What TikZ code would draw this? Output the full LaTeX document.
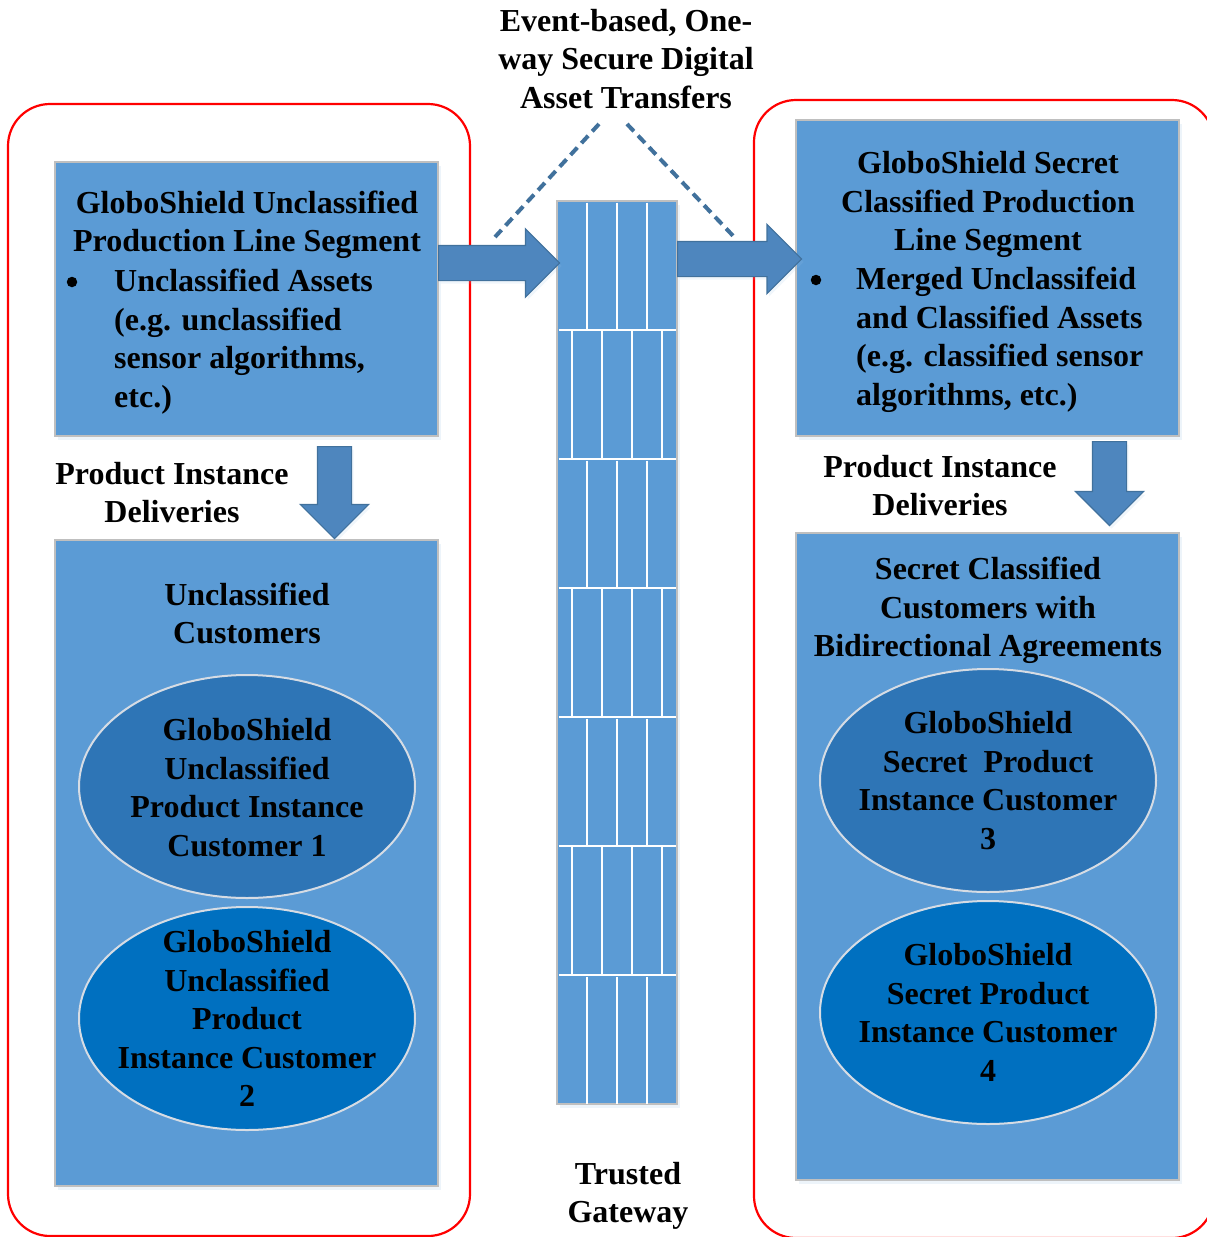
\documentclass[tikz,border=0pt]{standalone}
\usepackage{fontspec}
\setmainfont{Liberation Serif}
\usetikzlibrary{shapes.geometric,shapes.arrows,shadows}

\definecolor{panelblue}{HTML}{5B9BD5}
\definecolor{ovalmid}{HTML}{2E75B6}
\definecolor{ovaldeep}{HTML}{0070C0}
\definecolor{edgegray}{HTML}{BFBFBF}
\definecolor{ovaledge}{HTML}{D6DCE4}
\definecolor{arrowblue}{HTML}{4E86BE}
\definecolor{arrowedge}{HTML}{41719C}
\definecolor{haze}{HTML}{9DC3E6}

\begin{document}
\begin{tikzpicture}[x=1pt,y=-1pt,
  zone/.style={draw=red, line width=2.2pt, rounded corners=42pt, rectangle, inner sep=0pt},
  panel/.style={rectangle, fill=panelblue, draw=edgegray, line width=2.5pt, inner sep=0pt, outer sep=0pt,
    drop shadow={shadow xshift=3pt, shadow yshift=-4pt, opacity=.18, fill=haze}},
  oval/.style={ellipse, draw=ovaledge, line width=2pt, inner sep=0pt},
  txt/.style={font=\bfseries\fontsize{32}{38.5}\selectfont, align=center, inner sep=0pt,
    execute at begin node=\strut, execute at end node=\strut},
  listtxt/.style={txt, align=left},
  dot/.style={circle, fill=black, inner sep=0pt, minimum size=10.5pt},
  fatarrow/.style={single arrow, fill=arrowblue, draw=arrowedge, line width=1.2pt, inner sep=0pt,
    single arrow tip angle=90, text depth=0pt,
    drop shadow={shadow xshift=2pt, shadow yshift=-3pt, opacity=.15, fill=haze}},
  dashlink/.style={draw=arrowedge, line width=4pt, dash pattern=on 10pt off 6pt}
]
\useasboundingbox (0,0) rectangle (1207,1237);

% security zones
\node[zone, minimum width=462pt, minimum height=1132pt] (uzone) at (239,670) {};
\node[zone, minimum width=460pt, minimum height=1138pt] (szone) at (984,669) {};

% production line segments and customer panels
\node[panel, minimum width=383pt, minimum height=274pt] (utop) at (246.5,299) {};
\node[panel, minimum width=383pt, minimum height=646pt] (ubot) at (246.5,863) {};
\node[panel, minimum width=383pt, minimum height=316pt] (stop) at (987.5,278) {};
\node[panel, minimum width=383pt, minimum height=647pt] (sbot) at (987.5,856.5) {};

% trusted gateway drawn as a brick wall
\node[panel, minimum width=120pt, minimum height=903pt] (wall) at (617,652.5) {};
\begin{scope}[shift={(wall.north west)}, draw=white, line width=1.8pt]
  \foreach \r in {1,...,6} \draw (1.5,129*\r) -- (118.5,129*\r);
  \foreach \r in {0,2,4,6}
    \foreach \c in {30,60,90} \draw (\c,129*\r+1.5) -- (\c,129*\r+129);
  \foreach \r in {1,3,5}
    \foreach \c in {15,45,75,105} \draw (\c,129*\r) -- (\c,129*\r+129);
\end{scope}

% customer ovals
\node[oval, fill=ovalmid,  minimum width=336pt, minimum height=223pt] (c1) at (247,786.5) {};
\node[oval, fill=ovaldeep, minimum width=336pt, minimum height=223pt] (c2) at (247,1018.5) {};
\node[oval, fill=ovalmid,  minimum width=336pt, minimum height=223pt] (c3) at (988,780.5) {};
\node[oval, fill=ovaldeep, minimum width=336pt, minimum height=223pt] (c4) at (988,1012.5) {};

% transfer arrows
\node[fatarrow, text height=34pt, single arrow head extend=16.5pt, minimum height=121pt, anchor=tail]
  (a1) at (utop.east |- 0,263) {};
\node[fatarrow, text height=34pt, single arrow head extend=17pt, minimum height=124pt, anchor=tail]
  (a2) at (wall.east |- 0,259) {};
\node[fatarrow, text height=33pt, single arrow head extend=17pt, minimum height=92pt, anchor=tail, rotate=-90]
  (a3) at (334.5,446) {};
\node[fatarrow, text height=33pt, single arrow head extend=17pt, minimum height=84pt, anchor=tail, rotate=-90]
  (a4) at (1109.5,441) {};

% texts
\node[txt] (title) at (626,64.5) {Event-based, One-\\way Secure Digital\\Asset Transfers};
\node[txt] (gate) at (628,1198) {Trusted\\Gateway};

\node[txt] (utitle) at (247,227) {GloboShield Unclassified\\Production Line Segment};
\node[dot] (ubul) at (72,282) {};
\node[listtxt, anchor=west] (ulist) at (114,344) {Unclassified Assets\\(e.g. unclassified\\sensor algorithms,\\etc.)};

\node[txt] (stitle) at (988,207) {GloboShield Secret\\Classified Production\\Line Segment};
\node[dot] (sbul) at (816,280) {};
\node[listtxt, anchor=west] (slist) at (856,342) {Merged Unclassifeid\\and Classified Assets\\(e.g. classified sensor\\algorithms, etc.)};

\node[txt] (udel) at (172,498) {Product Instance\\Deliveries};
\node[txt] (sdel) at (940,491) {Product Instance\\Deliveries};

\node[txt] (ucust) at (247,619) {Unclassified\\Customers};
\node[txt] (scust) at (988,613) {Secret Classified\\Customers with\\Bidirectional Agreements};

\node[txt] (c1t) at (247,793) {GloboShield\\Unclassified\\Product Instance\\Customer 1};
\node[txt] (c2t) at (247,1024.5) {GloboShield\\Unclassified\\Product\\Instance Customer\\2};
\node[txt] (c3t) at (988,786) {GloboShield\\Secret\ \ Product\\Instance Customer\\3};
\node[txt] (c4t) at (988,1018) {GloboShield\\Secret Product\\Instance Customer\\4};

% dashed links from the transfer label down to the arrows
\coordinate (dl) at (599,124);
\coordinate (dr) at (627,124);
\coordinate (dlend) at (495,237);
\coordinate (drend) at (737,240);
\draw[dashlink] (dl) -- (dlend);
\draw[dashlink] (dr) -- (drend);
\end{tikzpicture}
\end{document}
